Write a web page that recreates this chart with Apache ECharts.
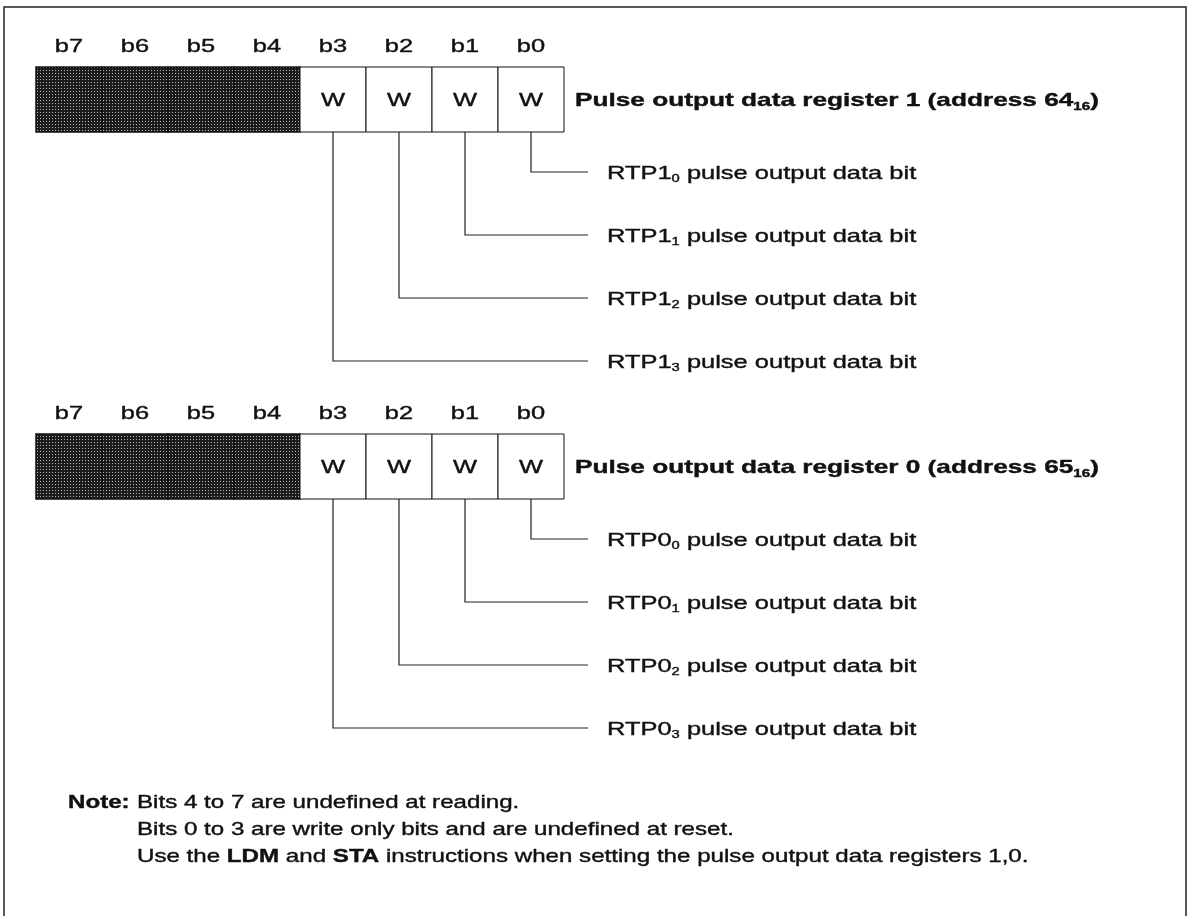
<!DOCTYPE html>
<html>
<head>
<meta charset="utf-8">
<title>Pulse output data registers</title>
<script src="https://cdn.jsdelivr.net/npm/echarts@6/dist/echarts.min.js"></script>
<style>
html, body { margin: 0; padding: 0; background: #fff; }
#chart { width: 1192px; height: 916px; }
</style>
</head>
<body>
<div id="chart"></div>
<script>
// bits of each register, left to right
const bitLabels = ['b7', 'b6', 'b5', 'b4', 'b3', 'b2', 'b1', 'b0'];
const bitAccess = ['', '', '', '', 'W', 'W', 'W', 'W']; // '' = nothing assigned (shaded)
const regNames = ['Pulse output data register 1', 'Pulse output data register 0'];
const regAddress = ['64', '65'];
const regRadix = '16';
const bitPrefix = ['RTP1', 'RTP0'];
const bitFunction = 'pulse output data bit';
const noteHead = 'Note:';
const noteLines = [
  'Bits 4 to 7 are undefined at reading.',
  'Bits 0 to 3 are write only bits and are undefined at reset.',
  'Use the {b|LDM} and {b|STA} instructions when setting the pulse output data registers 1,0.'
];

// layout, axis units are pixels of the 1192x916 page
const W = 1192, H = 916;
const FONT = '"Liberation Sans", Arial, Helvetica, sans-serif';
const FS = 19;
const SX = 1.34, SX_TITLE = 1.38, SX_NOTE = 1.27; // the scan is stretched sideways
const cellLeft = 36, cellW = 66, cellH = 65;
const regTop = [67, 434];
const levelStart = 40, levelStep = 63;
const leadEnd = 588, descX = 607, titleX = 575;
const noteX = 68, noteTextX = 137, noteY = 801, noteStep = 27;
const textDy = 1.5;
const frame = {left: 4, top: 7, right: 1186};

// dotted screen for the unused bits
const dots = document.createElement('canvas');
dots.width = 3; dots.height = 3;
const g = dots.getContext('2d');
g.fillStyle = '#1c1c1c';
g.fillRect(0, 0, 3, 3);
g.fillStyle = '#b4b4b4';
g.fillRect(1, 1, 1, 1);
const shade = {image: dots, repeat: 'repeat'};

const ink = {fill: '#111', stroke: '#111', lineWidth: 0.4};
const rich = {
  n: Object.assign({fontFamily: FONT, fontSize: FS, lineHeight: 22}, ink),
  s: Object.assign({fontFamily: FONT, fontSize: 11, lineHeight: 14, verticalAlign: 'bottom'}, ink),
  b: Object.assign({fontFamily: FONT, fontSize: FS, fontWeight: 'bold', lineHeight: 22}, ink),
  bs: Object.assign({fontFamily: FONT, fontSize: 11, fontWeight: 'bold', lineHeight: 14, verticalAlign: 'bottom'}, ink)
};

function label(p, text, opt, sx) {
  return {
    type: 'text', x: p[0], y: p[1] + textDy, scaleX: sx || SX,
    style: Object.assign({
      text: text, x: 0, y: 0, fontFamily: FONT, fontSize: FS,
      lineHeight: 22, align: 'left', verticalAlign: 'middle', rich: rich
    }, ink, opt)
  };
}

const cellData = [], leadData = [];
regNames.forEach((n, r) => {
  bitLabels.forEach((b, i) => {
    cellData.push([r, i]);
    if (bitAccess[i]) leadData.push([r, i]);
  });
});

const chart = echarts.init(document.getElementById('chart'));
chart.setOption({
  animation: false,
  backgroundColor: '#fff',
  grid: {left: 0, right: 0, top: 0, bottom: 0},
  xAxis: {type: 'value', min: 0, max: W, show: false},
  yAxis: {type: 'value', min: 0, max: H, inverse: true, show: false},
  series: [
    {
      name: 'frame', type: 'custom', silent: true, data: [[0, 0]],
      renderItem: (params, api) => ({
        type: 'polyline',
        shape: {points: [
          api.coord([frame.left, H]), api.coord([frame.left, frame.top]),
          api.coord([frame.right, frame.top]), api.coord([frame.right, H])
        ]},
        style: {stroke: '#222', lineWidth: 1.5, fill: null}
      })
    },
    {
      name: 'cells', type: 'custom', silent: true, data: cellData,
      renderItem: (params, api) => {
        const r = api.value(0), i = api.value(1);
        const x0 = cellLeft + i * cellW, y0 = regTop[r];
        const a = api.coord([x0, y0]), b = api.coord([x0 + cellW, y0 + cellH]);
        const children = [{
          type: 'rect',
          shape: {x: a[0], y: a[1], width: b[0] - a[0], height: b[1] - a[1]},
          style: {fill: bitAccess[i] ? '#fff' : shade, stroke: '#111', lineWidth: bitAccess[i] ? 1 : 1.5}
        }];
        children.push(label(api.coord([x0 + cellW / 2, y0 - 22]), bitLabels[i], {align: 'center'}));
        if (bitAccess[i]) {
          children.push(label(api.coord([x0 + cellW / 2, y0 + cellH / 2]), bitAccess[i], {align: 'center'}));
        }
        return {type: 'group', children: children};
      }
    },
    {
      name: 'leads', type: 'custom', silent: true, data: leadData,
      renderItem: (params, api) => {
        const r = api.value(0), i = api.value(1);
        const k = parseInt(bitLabels[i].slice(1), 10);
        const cx = cellLeft + i * cellW + cellW / 2;
        const yb = regTop[r] + cellH;
        const yl = yb + levelStart + k * levelStep;
        return {type: 'group', children: [
          {
            type: 'polyline',
            shape: {points: [api.coord([cx, yb]), api.coord([cx, yl]), api.coord([leadEnd, yl])]},
            style: {stroke: '#222', lineWidth: 1.2, fill: null}
          },
          label(api.coord([descX, yl]), '{n|' + bitPrefix[r] + '}{s|' + k + '}{n| ' + bitFunction + '}')
        ]};
      }
    },
    {
      name: 'titles', type: 'custom', silent: true, data: regNames.map((n, r) => [r, 0]),
      renderItem: (params, api) => {
        const r = api.value(0);
        const text = '{b|' + regNames[r] + ' (address ' + regAddress[r] + '}{bs|' + regRadix + '}{b|)}';
        return label(api.coord([titleX, regTop[r] + cellH / 2]), text, null, SX_TITLE);
      }
    },
    {
      name: 'notes', type: 'custom', silent: true, data: noteLines.map((t, j) => [j, 0]),
      renderItem: (params, api) => {
        const j = api.value(0);
        const y = noteY + j * noteStep;
        const children = [label(api.coord([noteTextX, y]), noteLines[j], null, SX_NOTE)];
        if (j === 0) children.push(label(api.coord([noteX, y]), noteHead, {fontWeight: 'bold'}, SX_NOTE));
        return {type: 'group', children: children};
      }
    }
  ]
});
</script>
</body>
</html>
